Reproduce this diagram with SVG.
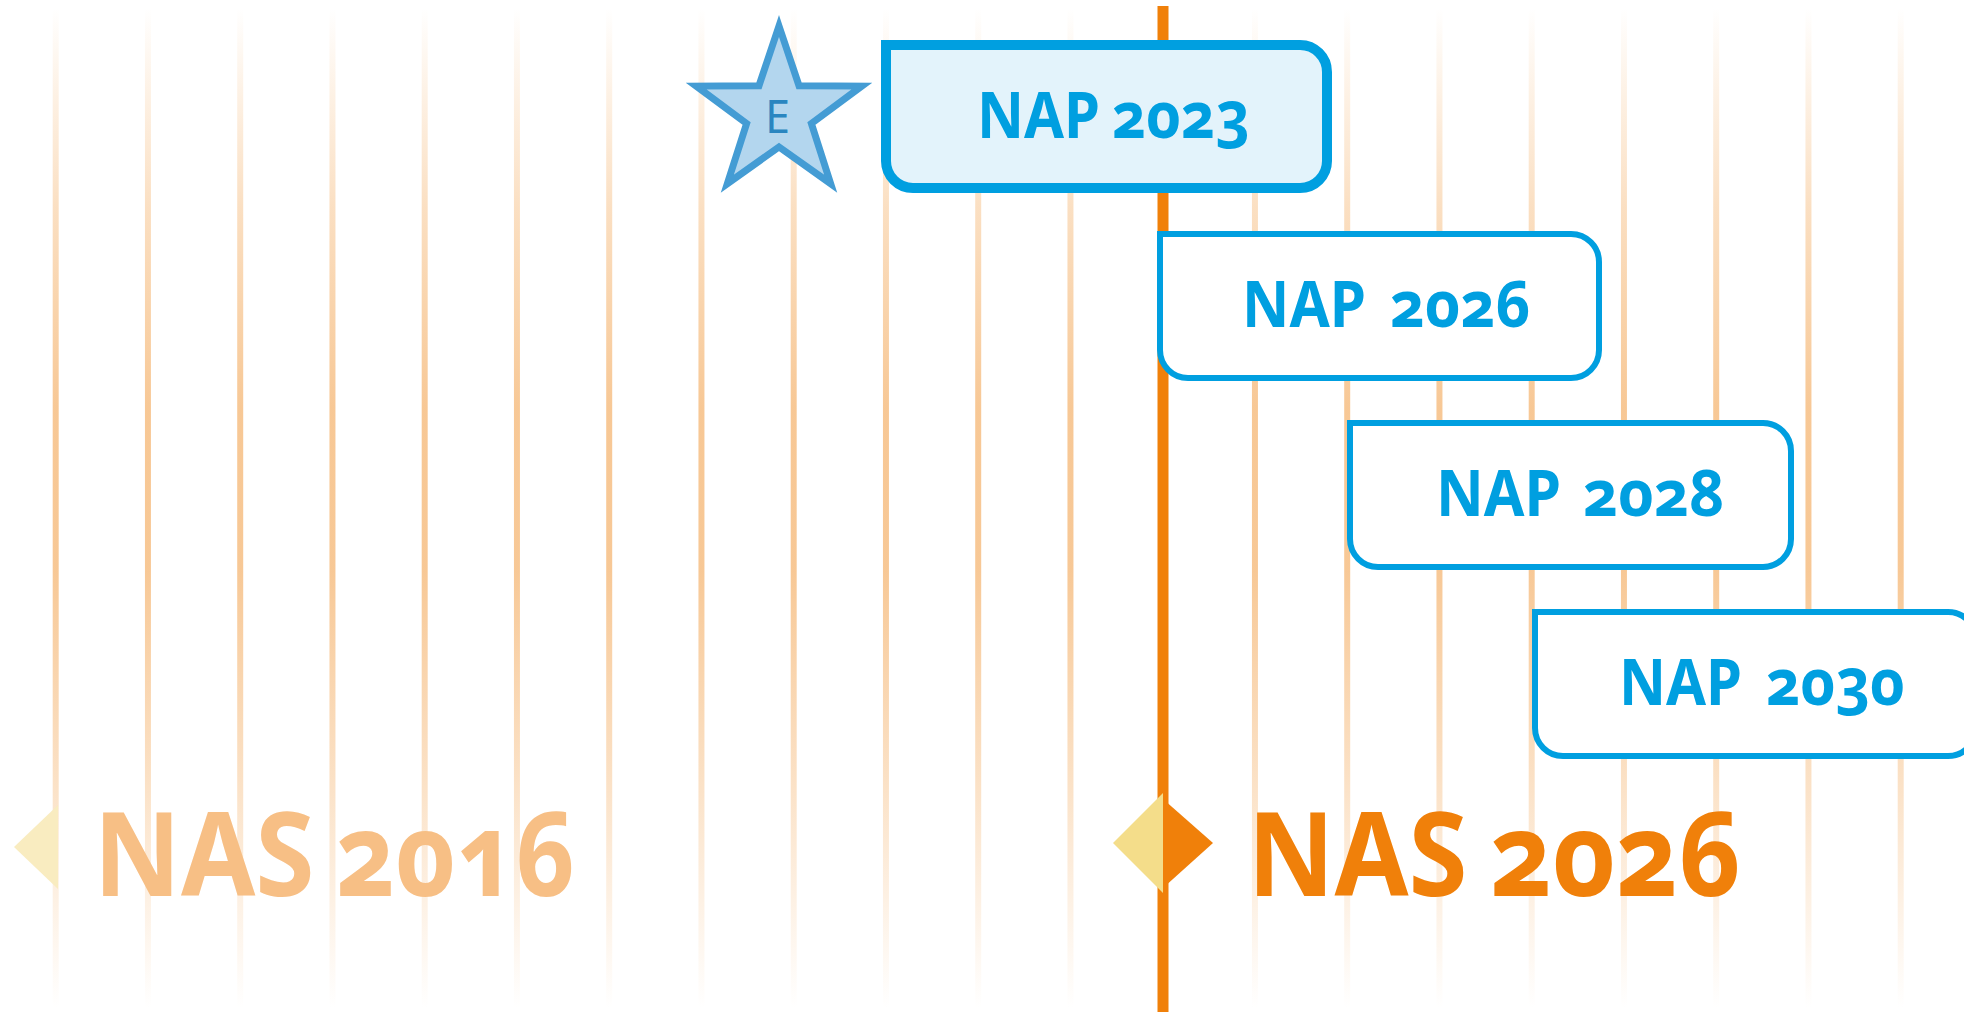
<svg xmlns="http://www.w3.org/2000/svg" width="1964" height="1012" viewBox="0 0 1964 1012">
  <defs>
    <linearGradient id="gridFade" gradientUnits="userSpaceOnUse" x1="0" y1="8" x2="0" y2="1008">
      <stop offset="0" stop-color="#f7c590" stop-opacity="0"/>
      <stop offset="0.2" stop-color="#f7c590" stop-opacity="0.55"/>
      <stop offset="0.4" stop-color="#f7c590" stop-opacity="0.95"/>
      <stop offset="0.56" stop-color="#f7c590" stop-opacity="0.95"/>
      <stop offset="0.78" stop-color="#f7c590" stop-opacity="0.5"/>
      <stop offset="0.92" stop-color="#f7c590" stop-opacity="0.18"/>
      <stop offset="1" stop-color="#f7c590" stop-opacity="0"/>
    </linearGradient>
  </defs>
  <style>
    .grid line { stroke: url(#gridFade); stroke-width: 6; }
    .box { fill: #ffffff; stroke: #009fe0; stroke-width: 6; }
    .box.current { fill: #e3f3fb; stroke-width: 10; }
    .nap { font-family: "Noto Sans", "Liberation Sans", sans-serif; font-weight: 700; font-size: 64px; fill: #009fe0; font-variant-numeric: oldstyle-nums; font-feature-settings: "onum" 1; }
    .nas { font-family: "Noto Sans", "Liberation Sans", sans-serif; font-weight: 700; font-size: 116px; font-variant-numeric: oldstyle-nums; font-feature-settings: "onum" 1; }
    .star { fill: #b3d6ee; stroke: #449cd4; stroke-width: 7; }
    .starlabel { font-family: "Noto Sans", "Liberation Sans", sans-serif; font-size: 46px; fill: #2a86c0; }
  </style>
  <rect width="1964" height="1012" fill="#ffffff"/>

  <g id="grid" class="grid">
    <line x1="55.7" y1="8" x2="55.7" y2="1008"/>
    <line x1="147.95" y1="8" x2="147.95" y2="1008"/>
    <line x1="240.2" y1="8" x2="240.2" y2="1008"/>
    <line x1="332.45" y1="8" x2="332.45" y2="1008"/>
    <line x1="424.7" y1="8" x2="424.7" y2="1008"/>
    <line x1="516.95" y1="8" x2="516.95" y2="1008"/>
    <line x1="609.2" y1="8" x2="609.2" y2="1008"/>
    <line x1="701.45" y1="8" x2="701.45" y2="1008"/>
    <line x1="793.7" y1="8" x2="793.7" y2="1008"/>
    <line x1="885.95" y1="8" x2="885.95" y2="1008"/>
    <line x1="978.2" y1="8" x2="978.2" y2="1008"/>
    <line x1="1070.45" y1="8" x2="1070.45" y2="1008"/>
    <line x1="1254.95" y1="8" x2="1254.95" y2="1008"/>
    <line x1="1347.2" y1="8" x2="1347.2" y2="1008"/>
    <line x1="1439.45" y1="8" x2="1439.45" y2="1008"/>
    <line x1="1531.7" y1="8" x2="1531.7" y2="1008"/>
    <line x1="1623.95" y1="8" x2="1623.95" y2="1008"/>
    <line x1="1716.2" y1="8" x2="1716.2" y2="1008"/>
    <line x1="1808.45" y1="8" x2="1808.45" y2="1008"/>
    <line x1="1900.7" y1="8" x2="1900.7" y2="1008"/>
  </g>

  <g id="connectors">
    <line id="today-line" x1="1163" y1="6" x2="1163" y2="1012" stroke="#f0800a" stroke-width="11"/>
  </g>

  <g id="nas2016">
    <polygon points="58,805 14,847 58,889" fill="#f9ecc0"/>
    <text class="nas" y="896" fill="#f7bf85"><tspan x="93.5" textLength="221" lengthAdjust="spacingAndGlyphs">NAS</tspan><tspan x="336" textLength="240" lengthAdjust="spacingAndGlyphs">2016</tspan></text>
  </g>

  <g id="nas2026">
    <polygon points="1163,793 1113,843 1163,893" fill="#f4dd8a"/>
    <polygon points="1163,799 1213,843 1163,888" fill="#f0800a"/>
    <text class="nas" y="896" fill="#f0800a"><tspan x="1247.5" textLength="220" lengthAdjust="spacingAndGlyphs">NAS</tspan><tspan x="1490" textLength="252" lengthAdjust="spacingAndGlyphs">2026</tspan></text>
  </g>

  <g id="star-e">
    <polygon class="star" points="779,26 799,85.7 861.8,86.1 811.4,123.5 830.7,183.7 779,147 727.3,183.7 746.6,123.5 696.2,86.1 759,85.7"/>
    <text class="starlabel" x="765" y="133" textLength="25" lengthAdjust="spacingAndGlyphs">E</text>
  </g>

  <g id="nap2023">
    <path class="box current" d="M886 45 H1300 A27 27 0 0 1 1327 72 V161 A27 27 0 0 1 1300 188 H913 A27 27 0 0 1 886 161 Z"/>
    <text class="nap" y="138"><tspan x="977" textLength="123" lengthAdjust="spacingAndGlyphs">NAP</tspan><tspan x="1112" textLength="138" lengthAdjust="spacingAndGlyphs">2023</tspan></text>
  </g>

  <g id="nap2026">
    <path class="box" d="M1160 234 H1571 A28 28 0 0 1 1599 262 V350 A28 28 0 0 1 1571 378 H1188 A28 28 0 0 1 1160 350 Z"/>
    <text class="nap" y="327"><tspan x="1242" textLength="124" lengthAdjust="spacingAndGlyphs">NAP</tspan><tspan x="1390" textLength="141" lengthAdjust="spacingAndGlyphs">2026</tspan></text>
  </g>

  <g id="nap2028">
    <path class="box" d="M1350 423 H1763 A28 28 0 0 1 1791 451 V539 A28 28 0 0 1 1763 567 H1378 A28 28 0 0 1 1350 539 Z"/>
    <text class="nap" y="516"><tspan x="1436" textLength="125" lengthAdjust="spacingAndGlyphs">NAP</tspan><tspan x="1583" textLength="142" lengthAdjust="spacingAndGlyphs">2028</tspan></text>
  </g>

  <g id="nap2030">
    <path class="box" d="M1535 612 H1948 A28 28 0 0 1 1976 640 V728 A28 28 0 0 1 1948 756 H1563 A28 28 0 0 1 1535 728 Z"/>
    <text class="nap" y="705"><tspan x="1619" textLength="123" lengthAdjust="spacingAndGlyphs">NAP</tspan><tspan x="1766" textLength="139" lengthAdjust="spacingAndGlyphs">2030</tspan></text>
  </g>
</svg>
